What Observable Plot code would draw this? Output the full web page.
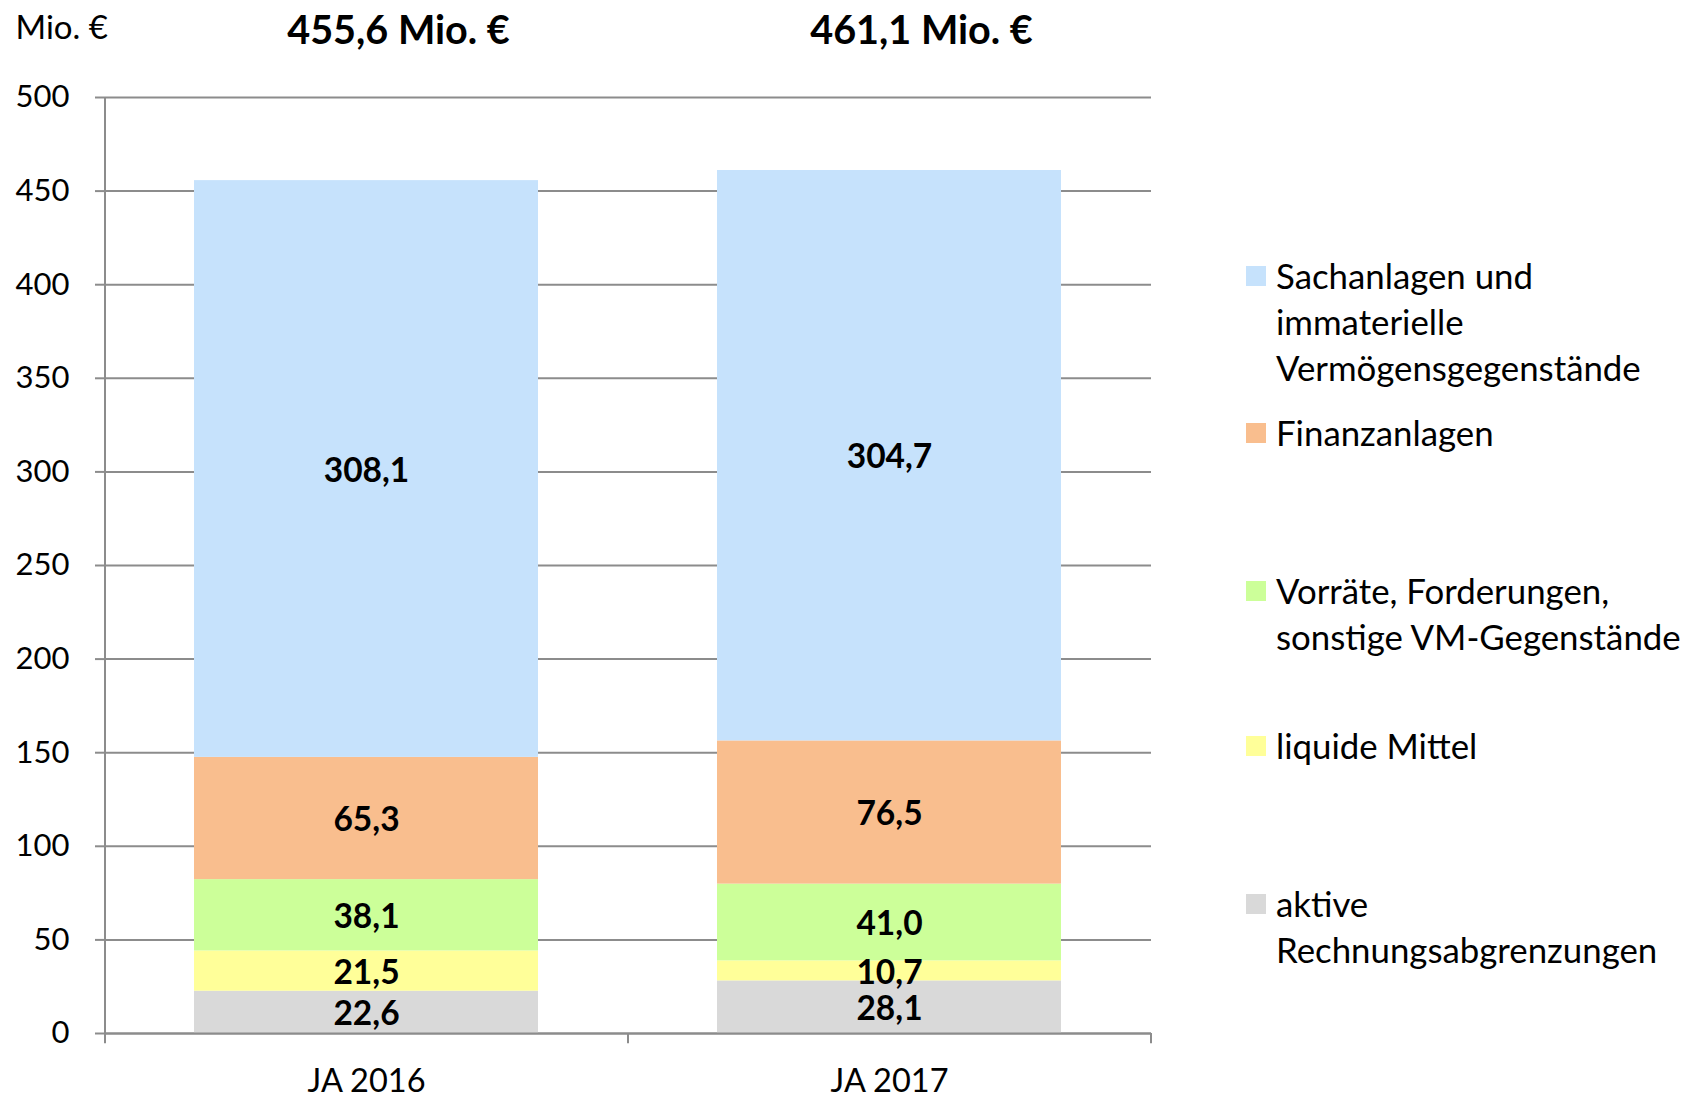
<!DOCTYPE html>
<html>
<head>
<meta charset="utf-8">
<script src="https://cdn.jsdelivr.net/npm/d3@7"></script>
<script src="https://cdn.jsdelivr.net/npm/@observablehq/plot@0.6"></script>
<style>
  html, body { margin: 0; padding: 0; background: #fff; }
  #wrap { position: relative; width: 1684px; height: 1097px; font-family: Lato, "Open Sans", sans-serif; }
  #legend { position: absolute; left: 0; top: 0; }
  .item { position: absolute; left: 1246px; font-size: 34.8px; line-height: 45.7px; color: #000; white-space: pre; }
  .sw { position: absolute; left: 0; width: 20px; height: 20px; top: 13px; }
  .lbl { position: absolute; left: 30px; top: 0; }
</style>
</head>
<body>
<div id="wrap"><div id="chart"></div><div id="legend"></div></div>
<script>
// ---- data ----
const years = ["JA 2016", "JA 2017"];
const categories = [
  "aktive Rechnungsabgrenzungen",
  "liquide Mittel",
  "Vorräte, Forderungen, sonstige VM-Gegenstände",
  "Finanzanlagen",
  "Sachanlagen und immaterielle Vermögensgegenstände"
];
const values2016 = [22.6, 21.5, 38.1, 65.3, 308.1];
const values2017 = [28.1, 10.7, 41.0, 76.5, 304.7];
const totals = [455.6, 461.1];
const yTicks = [0, 50, 100, 150, 200, 250, 300, 350, 400, 450, 500];
const legendLines = [
  ["Sachanlagen und", "immaterielle", "Vermögensgegenstände"],
  ["Finanzanlagen"],
  ["Vorräte, Forderungen,", "sonstige VM-Gegenstände"],
  ["liquide Mittel"],
  ["aktive", "Rechnungsabgrenzungen"]
];
const colors = ["#D9D9D9", "#FFFF99", "#CCFF99", "#F9BE8E", "#C6E2FC"];

// ---- layout ----
const W = 1684, H = 1097;
const mL = 105, mR = 533, mT = 97, mB = 64;
const step = (W - mL - mR) / years.length;
const fmt = v => v.toFixed(1).replace(".", ",");

const rows = [];
[values2016, values2017].forEach((vals, i) => {
  let acc = 0;
  vals.forEach((v, j) => {
    rows.push({year: years[i], category: categories[j], value: v, mid: acc + v / 2});
    acc += v;
  });
});
const totalRows = years.map((y, i) => ({year: y, total: totals[i]}));

const plot = Plot.plot({
  width: W, height: H,
  marginLeft: mL, marginRight: mR, marginTop: mT, marginBottom: mB,
  style: {fontFamily: "Lato, 'Open Sans', sans-serif", color: "#000", background: "#fff", overflow: "visible"},
  x: {domain: years, paddingInner: 0.342, paddingOuter: 0.171, label: null},
  y: {domain: [0, 500], label: null},
  color: {domain: categories, range: colors},
  marks: [
    Plot.ruleY(yTicks, {stroke: "#8c8c8c", strokeWidth: 2}),
    Plot.barY(rows, {x: "year", y: "value", fill: "category"}),
    Plot.axisY({ticks: yTicks, tickSize: 10, tickPadding: 26, stroke: "#8c8c8c", strokeWidth: 2, fill: "#000", fontSize: 31, tickFormat: d => d}),
    Plot.axisX({tickSize: 0, tickPadding: 35.5, fontSize: 32.5, fill: "#000"}),
    Plot.ruleX([years[0]], {x: d => d, dx: -step / 2, y1: -5.5, y2: 500, stroke: "#8c8c8c", strokeWidth: 2}),
    Plot.ruleX(years, {x: d => d, dx: step / 2, y1: -5.5, y2: 0, stroke: "#8c8c8c", strokeWidth: 2}),
    Plot.ruleY([0], {stroke: "#8c8c8c", strokeWidth: 2}),
    Plot.text(rows, {x: "year", y: "mid", dy: 2, text: d => fmt(d.value), fontSize: 33.5, fontWeight: "bold", fill: "#000"}),
    Plot.text(totalRows, {x: "year", frameAnchor: "top", dy: -82, dx: 32, text: d => fmt(d.total) + " Mio. €", fontSize: 39.6, fontWeight: "bold", fill: "#000"}),
    Plot.text(["Mio. €"], {frameAnchor: "top-left", dx: -90, dy: -82, textAnchor: "start", fontSize: 33, fill: "#000"})
  ]
});
document.getElementById("chart").appendChild(plot);

// ---- legend ----
const firstLineCenter = [276, 433, 591, 746, 904];
const legend = document.getElementById("legend");
legendLines.forEach((lines, i) => {
  const item = document.createElement("div");
  item.className = "item";
  item.style.top = (firstLineCenter[i] - 22.85) + "px";
  const sw = document.createElement("div");
  sw.className = "sw";
  sw.style.background = colors[colors.length - 1 - i];
  const lbl = document.createElement("div");
  lbl.className = "lbl";
  lbl.textContent = lines.join("\n");
  item.appendChild(sw);
  item.appendChild(lbl);
  legend.appendChild(item);
});
</script>
</body>
</html>
